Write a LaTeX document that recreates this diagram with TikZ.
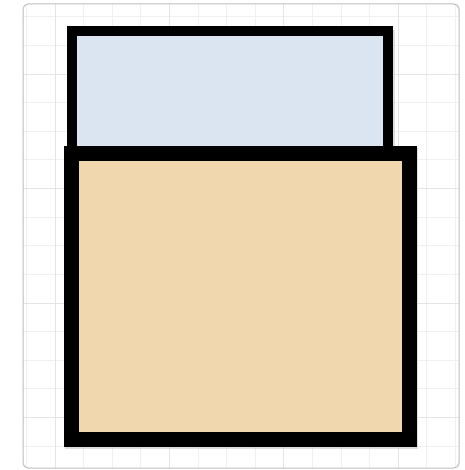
\documentclass[tikz,border=0pt]{standalone}
\definecolor{gridminor}{HTML}{F0F0F0}
\definecolor{gridmajor}{HTML}{E4E4E4}
\definecolor{framegray}{HTML}{BDBDBD}
\definecolor{paleblue}{HTML}{DAE5F1}
\definecolor{paletan}{HTML}{F1D7AE}
\tikzset{
  boxstyle/.style={draw=black, rectangle, inner sep=0pt, outer sep=0pt},
}
\begin{document}
\begin{tikzpicture}[x=1pt,y=-1pt]
\useasboundingbox (0,0) rectangle (464,470);
\fill[white] (0,0) rectangle (464,470);
% frame and grid
\begin{scope}
\clip[rounded corners=5pt] (23,4) rectangle (459,468);
\foreach \i in {0,...,15} {
  \pgfmathsetmacro{\gx}{26.4+28.6*\i}
  \draw[gridminor, line width=1pt] (\gx,4) -- (\gx,468);
}
\foreach \i in {0,...,16} {
  \pgfmathsetmacro{\gy}{-11.6+28.6*\i}
  \draw[gridminor, line width=1pt] (23,\gy) -- (459,\gy);
}
\foreach \gx in {55,169.4,283.8,398.2} \draw[gridmajor, line width=1pt] (\gx,4) -- (\gx,468);
\foreach \gy in {74.2,188.6,303,417.4} \draw[gridmajor, line width=1pt] (23,\gy) -- (459,\gy);
\end{scope}
\draw[framegray, line width=1pt, rounded corners=5pt] (23,4) rectangle (459,468);
% shadows
\fill[black!25, opacity=0.5] (68.5,28.5) ++(2,2) rectangle (394.5,159);
% boxes
\node[boxstyle, fill=paleblue, line width=10pt, minimum width=316pt, minimum height=120.5pt] (top) at (229.5,91.75) {};
\fill[black!25, opacity=0.5] (65,148) rectangle (418,448.5);
\node[boxstyle, fill=paletan, line width=15pt, minimum width=338pt, minimum height=285pt] (bottom) at (240,296.5) {};
\end{tikzpicture}
\end{document}
